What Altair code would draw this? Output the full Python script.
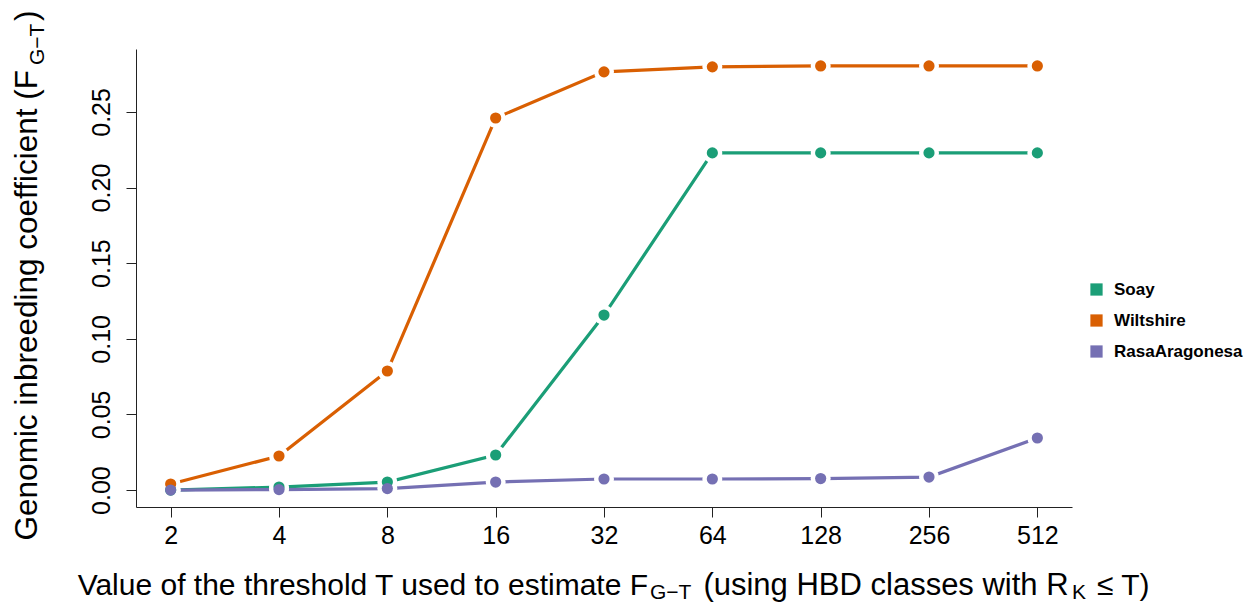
import altair as alt
import pandas as pd

thresholds = [2, 4, 8, 16, 32, 64, 128, 256, 512]
soay = [0.000, 0.002, 0.0053, 0.0232, 0.1157, 0.2229, 0.2229, 0.2229, 0.2229]
wiltshire = [0.004, 0.0225, 0.0787, 0.246, 0.2765, 0.2798, 0.2804, 0.2804, 0.2804]
rasa = [0.000, 0.0003, 0.001, 0.0053, 0.0073, 0.0073, 0.0076, 0.0086, 0.0344]
breeds = ["Soay", "Wiltshire", "RasaAragonesa"]
colors = ["#1B9E77", "#D95F02", "#7570B3"]
y_ticks = [0.00, 0.05, 0.10, 0.15, 0.20, 0.25]

rows = []
for name, vals in zip(breeds, [soay, wiltshire, rasa]):
    for t, v in zip(thresholds, vals):
        rows.append({"T": t, "F": v, "breed": name})
df = pd.DataFrame(rows)

FONT = "Liberation Sans"

base = alt.Chart(df).transform_calculate(L="log(datum.T)/LN2")

xenc = alt.X("L:Q", scale=alt.Scale(domain=[0.68, 9.32], nice=False, zero=False),
             axis=alt.Axis(values=list(range(1, 10)), labelExpr="pow(2, datum.value)",
                           title=None, grid=False, tickSize=10, labelFontSize=25,
                           labelFont=FONT, labelColor="#000", labelPadding=6,
                           domainColor="#222", tickColor="#222", labelFlush=False))
yenc = alt.Y("F:Q", scale=alt.Scale(domain=[-0.0112, 0.2916], nice=False, zero=False),
             axis=alt.Axis(values=y_ticks, format=".2f", title=None, grid=False,
                           tickSize=10, labelFontSize=25, labelFont=FONT, labelColor="#000",
                           labelAngle=270, labelAlign="center", labelBaseline="bottom",
                           labelPadding=12, domainColor="#222", tickColor="#222"))

legend = alt.Legend(orient="none", legendX=952, legendY=232, title=None,
                    symbolType="square", symbolSize=150,
                    labelFontSize=17, labelFont=FONT, labelFontWeight="bold",
                    labelColor="#000", rowPadding=13, labelOffset=9,
                    symbolStrokeWidth=0, symbolOpacity=1)
cenc = alt.Color("breed:N", scale=alt.Scale(domain=breeds, range=colors), legend=legend)

lines = base.mark_line(strokeWidth=3.2).encode(x=xenc, y=yenc, color=cenc, detail="breed:N")
halos = base.mark_circle(size=400, color="white", opacity=1).encode(x=xenc, y=yenc)
points = base.mark_circle(size=125, opacity=1).encode(x=xenc, y=yenc, color=cenc)

one = alt.Data(values=[{"a": 1}])


def txt(s, x, y, size, align="left", angle=0):
    return alt.Chart(one).mark_text(font=FONT, fontSize=size, align=align, baseline="alphabetic",
                                    angle=angle, color="#000").encode(
        x=alt.value(x), y=alt.value(y), text=alt.value(s))


# x-axis title with subscripts (page coords minus plot origin 136, 49)
xt = [
    txt("Value of the threshold T used to estimate F", 648 - 136, 595 - 49, 30, "right"),
    txt("G\u2212T", 650 - 136, 599 - 49, 21, "left"),
    txt("(using HBD classes with R", 886 - 136, 595 - 49, 31, "center"),
    txt("K", 1072 - 136, 599 - 49, 21, "left"),
    txt("\u2264  T)", 1097 - 136, 595 - 49, 30, "left"),
]
# y-axis title, rotated
yt = [
    txt("Genomic inbreeding coefficient (F", 37 - 136, 70 - 49, 31.5, "right", 270),
    txt("G\u2212T", 44 - 136, 65 - 49, 21, "left", 270),
    txt(")", 37 - 136, 21 - 49, 31.5, "left", 270),
]

chart = alt.layer(lines, halos, points, *xt, *yt).properties(
    width=936, height=458,
    autosize=alt.AutoSizeParams(type="none"),
    padding={"left": 128, "top": 41, "right": 172, "bottom": 96},
).configure_view(stroke=None).configure_axis(domainWidth=1, tickWidth=1)

chart.save("out.html", embed_options={"renderer": "svg", "actions": False})
